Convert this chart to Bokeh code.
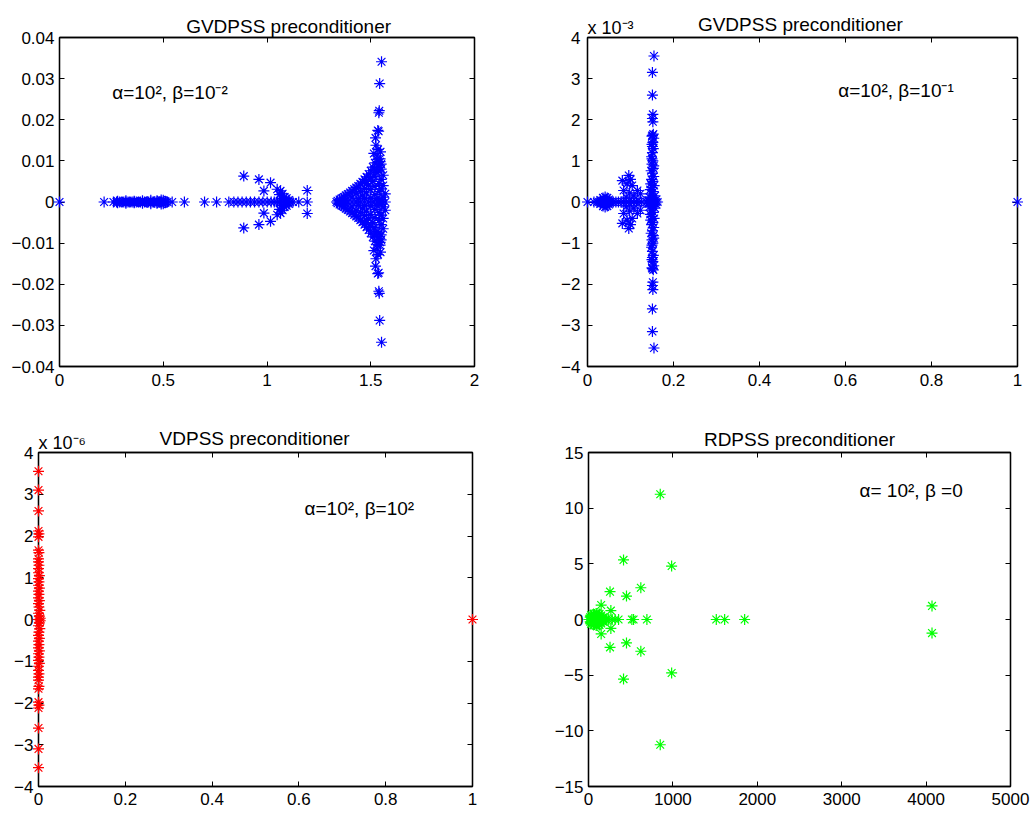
from bokeh.plotting import figure
from bokeh.models import (Range1d, FixedTicker, LinearAxis, Label,
                          CustomJSTickFormatter, ColumnDataSource)
from bokeh.core.properties import value
from bokeh.layouts import column, row
from bokeh.embed import file_html
from bokeh.resources import INLINE

FONT = "Liberation Sans"

# ------------------------------------------------------------------ data
# Panel 1: GVDPSS, alpha=1e2, beta=1e-2  (real eigenvalues, and complex pairs re +/- i*im)
gv1_real = [0.0, 0.215, 0.26, 0.275, 0.29, 0.30, 0.31, 0.32, 0.33, 0.34, 0.35, 0.36,
            0.37, 0.38, 0.39, 0.40, 0.41, 0.42, 0.43, 0.44, 0.45, 0.46, 0.47, 0.48,
            0.49, 0.50, 0.51, 0.52, 0.543, 0.602, 0.699, 0.757, 0.816, 0.840, 0.860,
            0.880, 0.900, 0.920, 0.940, 0.961, 0.980, 1.001, 1.020, 1.035, 1.050,
            1.065, 1.080, 1.095, 1.110, 1.125, 1.153, 1.194,
            1.335, 1.35, 1.37, 1.39, 1.41, 1.43, 1.45, 1.47, 1.49, 1.51, 1.53, 1.55, 1.57]
gv1_pair_re = [0.28, 0.32, 0.36, 0.40, 0.44, 0.47, 0.49, 0.50, 0.51,
               0.888, 0.961, 1.017, 0.985, 1.049, 1.065, 1.060, 1.075, 1.085, 1.095,
               1.070, 1.105, 1.194,
               1.34, 1.35, 1.36, 1.37, 1.38, 1.39, 1.40, 1.41, 1.42, 1.43, 1.44, 1.45,
               1.46, 1.47, 1.48, 1.49, 1.50, 1.51, 1.52, 1.53,
               1.38, 1.41, 1.43, 1.45, 1.47, 1.49, 1.51, 1.52, 1.53, 1.54, 1.55,
               1.46, 1.48, 1.50, 1.52, 1.54, 1.55, 1.56,
               1.50, 1.52, 1.54, 1.55, 1.56, 1.57, 1.56, 1.53, 1.55, 1.44, 1.47,
               1.54, 1.55, 1.545, 1.535, 1.52, 1.50, 1.48,
               1.515, 1.547, 1.525, 1.523, 1.534, 1.538, 1.539, 1.541, 1.543, 1.552,
               1.535, 1.53, 1.545]
gv1_pair_im = [0.0002, 0.0003, 0.0002, 0.0003, 0.0004, 0.0003, 0.0005, 0.0004, 0.0002,
               0.0063, 0.0055, 0.0047, 0.0027, 0.0031, 0.0027, 0.0018, 0.0020, 0.0012, 0.0009,
               0.0008, 0.0005, 0.0028,
               0.0003, 0.0006, 0.0009, 0.0012, 0.0016, 0.0019, 0.0023, 0.0027, 0.0031, 0.0035,
               0.0039, 0.0044, 0.0049, 0.0055, 0.0061, 0.0068, 0.0076, 0.0085, 0.0095, 0.0104,
               0.0005, 0.0012, 0.0020, 0.0026, 0.0033, 0.0041, 0.0050, 0.0062, 0.0072, 0.0085,
               0.0092,
               0.0015, 0.0022, 0.0030, 0.0038, 0.0045, 0.0055, 0.0065,
               0.0010, 0.0018, 0.0025, 0.0032, 0.0040, 0.0020, 0.0012, 0.0008, 0.0006, 0.0008,
               0.0009,
               0.0075, 0.0080, 0.0098, 0.0090, 0.0078, 0.0060, 0.0045,
               0.0118, 0.0122, 0.0138, 0.0156, 0.0174, 0.0172, 0.0217, 0.0222, 0.0288, 0.0341,
               0.0128, 0.0112, 0.0105]

# Panel 2: GVDPSS, alpha=1e2, beta=1e-1
gv2_real = [0.0, 0.015, 0.022, 0.027, 0.031, 0.035, 0.039, 0.043, 0.047, 0.051, 0.055,
            0.060, 0.066, 0.072, 0.078, 0.084, 0.090, 0.096, 0.102, 0.108, 0.114, 0.120,
            0.126, 0.138, 0.143, 0.147, 0.151, 0.155, 0.159, 0.163, 1.0]
gv2_pair_re = [0.030, 0.036, 0.041, 0.046, 0.050, 0.044,
               0.081, 0.096, 0.092, 0.104, 0.116, 0.084, 0.123, 0.098, 0.108, 0.090, 0.100,
               0.1546, 0.151, 0.151, 0.152, 0.151, 0.152, 0.153, 0.150, 0.152, 0.150, 0.153,
               0.151, 0.149, 0.152, 0.150, 0.153, 0.148, 0.151, 0.154, 0.149, 0.152, 0.147,
               0.155, 0.150, 0.146, 0.153, 0.148, 0.157, 0.144, 0.151, 0.159, 0.142, 0.154,
               0.151, 0.150, 0.154, 0.151]
gv2_pair_im = [0.05e-3, 0.10e-3, 0.12e-3, 0.10e-3, 0.06e-3, 0.04e-3,
               0.52e-3, 0.645e-3, 0.44e-3, 0.40e-3, 0.28e-3, 0.28e-3, 0.20e-3, 0.22e-3,
               0.15e-3, 0.12e-3, 0.55e-3,
               3.55e-3, 3.15e-3, 2.60e-3, 2.13e-3, 2.03e-3, 1.95e-3, 1.65e-3, 1.60e-3,
               1.45e-3, 1.40e-3, 1.30e-3, 1.20e-3, 1.10e-3, 1.00e-3, 0.92e-3, 0.82e-3,
               0.76e-3, 0.70e-3, 0.62e-3, 0.55e-3, 0.50e-3, 0.44e-3, 0.40e-3, 0.35e-3,
               0.30e-3, 0.25e-3, 0.20e-3, 0.15e-3, 0.12e-3, 0.09e-3, 0.05e-3, 0.04e-3,
               1.55e-3, 1.35e-3, 1.05e-3, 0.88e-3, 1.62e-3]

# Panel 3: VDPSS, alpha=1e2, beta=1e2
vd_real = [0.0, 0.0, 0.001, 1.0]
vd_pair_re = [0.0, 0.0, 0.0, 0.0, 0.001, 0.0, 0.0, 0.001, 0.0, 0.0, 0.001, 0.0, 0.0,
              0.002, 0.0, 0.001, 0.0, 0.002, 0.0, 0.001, 0.0, 0.002, 0.0, 0.001, 0.003,
              0.0, 0.002, 0.004]
vd_pair_im = [3.55e-6, 3.1e-6, 2.6e-6, 2.12e-6, 2.05e-6, 1.98e-6, 1.66e-6, 1.6e-6,
              1.45e-6, 1.38e-6, 1.3e-6, 1.22e-6, 1.12e-6, 1.05e-6, 0.98e-6, 0.9e-6,
              0.82e-6, 0.75e-6, 0.68e-6, 0.6e-6, 0.52e-6, 0.45e-6, 0.38e-6, 0.3e-6,
              0.22e-6, 0.15e-6, 0.08e-6, 0.03e-6]

# Panel 4: RDPSS, alpha=1e2, beta=0
rd_real = [5, 15, 25, 35, 45, 55, 65, 75, 85, 95, 105, 120, 135, 150, 165, 180, 200,
           215, 240, 280, 316, 356, 514, 534, 692, 1514, 1613, 1850]
rd_pair_re = [850, 415, 985, 255, 450, 620, 150, 265, 4070,
              20, 40, 50, 70, 80, 100, 110, 120, 140, 150, 60, 90, 130, 30, 170, 100]
rd_pair_im = [11.25, 5.35, 4.8, 2.5, 2.1, 2.85, 1.3, 0.8, 1.22,
              0.2, 0.35, 0.15, 0.45, 0.3, 0.55, 0.2, 0.4, 0.15, 0.35, 0.5, 0.55, 0.5,
              0.4, 0.2, 0.1]

# axis ticks
p1_xticks = [0, 0.5, 1, 1.5, 2]
p1_yticks = [-0.04, -0.03, -0.02, -0.01, 0, 0.01, 0.02, 0.03, 0.04]
p2_xticks = [0, 0.2, 0.4, 0.6, 0.8, 1]
p2_yticks = [-4e-3, -3e-3, -2e-3, -1e-3, 0, 1e-3, 2e-3, 3e-3, 4e-3]
p3_xticks = [0, 0.2, 0.4, 0.6, 0.8, 1]
p3_yticks = [-4e-6, -3e-6, -2e-6, -1e-6, 0, 1e-6, 2e-6, 3e-6, 4e-6]
p4_xticks = [0, 1000, 2000, 3000, 4000, 5000]
p4_yticks = [-15, -10, -5, 0, 5, 10, 15]

titles = ["GVDPSS preconditioner", "GVDPSS preconditioner",
          "VDPSS preconditioner", "RDPSS preconditioner"]
notes = ["\u03b1=10\u00b2, \u03b2=10\u207b\u00b2", "\u03b1=10\u00b2, \u03b2=10\u207b\u00b9",
         "\u03b1=10\u00b2, \u03b2=10\u00b2", "\u03b1= 10\u00b2,  \u03b2 =0"]
multipliers = [None, "x 10\u207b\u00b3", "x 10\u207b\u2076", None]
scales = [1, 1e3, 1e6, 1]


def eig_source(real_vals, pair_re, pair_im):
    xs = list(real_vals) + list(pair_re) + list(pair_re)
    ys = [0.0] * len(real_vals) + list(pair_im) + [-v for v in pair_im]
    return ColumnDataSource(dict(x=xs, y=ys))


def fmt(scale):
    return CustomJSTickFormatter(code="""
        const v = tick * %r;
        if (Math.abs(v) < 1e-9) { return "0"; }
        const s = String(parseFloat(v.toFixed(6)));
        return s.replace("-", "\u2212");
    """ % scale)


def panel(w, h, borders, xr, yr, xticks, yticks, yscale, src, color,
          title, title_x, title_px, note, note_pos, mult, mult_px, ystandoff, xstandoff):
    left, right, top, bottom = borders
    frame_h = h - top - bottom
    yspan = yr[1] - yr[0]

    def above(px):  # data y that lies px pixels above the top of the frame
        return yr[1] + px * yspan / frame_h

    p = figure(width=w, height=h, x_range=Range1d(*xr), y_range=Range1d(*yr),
               output_backend="svg", toolbar_location=None,
               min_border_left=left, min_border_right=right,
               min_border_top=top, min_border_bottom=bottom)
    p.xgrid.visible = False
    p.ygrid.visible = False
    p.outline_line_color = "black"
    p.outline_line_width = 1.3
    p.background_fill_color = "white"
    p.border_fill_color = "white"

    p.xaxis.ticker = FixedTicker(ticks=xticks)
    p.yaxis.ticker = FixedTicker(ticks=yticks)
    p.xaxis.formatter = fmt(1)
    p.yaxis.formatter = fmt(yscale)
    p.xaxis.major_label_standoff = xstandoff
    p.yaxis.major_label_standoff = ystandoff
    for ax in (p.xaxis[0], p.yaxis[0]):
        ax.major_tick_in = 5
        ax.major_tick_out = 0
        ax.minor_tick_line_color = None
        ax.axis_line_color = "black"
        ax.axis_line_width = 1.3
        ax.major_tick_line_color = "black"
        ax.major_label_text_font = FONT
        ax.major_label_text_font_size = "17px"
        ax.major_label_text_color = "black"

    for side, ticks in (("right", yticks), ("above", xticks)):
        ax = LinearAxis(ticker=FixedTicker(ticks=ticks), major_label_text_font_size="0px",
                        major_label_text_color=None, major_label_standoff=0,
                        major_tick_in=5, major_tick_out=0,
                        minor_tick_line_color=None, axis_line_color="black",
                        axis_line_width=1.3, major_tick_line_color="black")
        p.add_layout(ax, side)

    p.scatter("x", "y", source=src, marker="asterisk", size=11, line_color=color,
              line_width=1.2, level="overlay")

    # title (drawn above the frame)
    p.text(x=[title_x], y=[above(title_px)], text=[title], text_align="center",
           text_baseline="alphabetic", text_font=value(FONT),
           text_font_size=value("19px"), text_color="black", level="overlay")
    # parameter annotation inside the frame
    p.add_layout(Label(x=note_pos[0], y=note_pos[1], text=note, text_align="left",
                       text_baseline="alphabetic", text_font=FONT,
                       text_font_size="19px", text_color="black"))
    # exponent multiplier of the y axis
    if mult:
        p.text(x=[xr[0]], y=[above(mult_px)], text=[mult], text_align="left",
               text_baseline="alphabetic", text_font=value(FONT),
               text_font_size=value("18px"), text_color="black", level="overlay")
    return p


f1 = panel(518, 405, (59, 44, 37, 33), (0, 2), (-0.04, 0.04), p1_xticks, p1_yticks,
           scales[0], eig_source(gv1_real, gv1_pair_re, gv1_pair_im), "#0000ff",
           titles[0], 1.104, 11.4, notes[0], (0.254, 0.0266), multipliers[0], None, 5, 7)
f2 = panel(517, 405, (69, 18, 37, 39), (0, 1), (-4e-3, 4e-3), p2_xticks, p2_yticks,
           scales[1], eig_source(gv2_real, gv2_pair_re, gv2_pair_im), "#0000ff",
           titles[1], 0.495, 13, notes[1], (0.583, 0.00271), multipliers[1], 9.7, 7, 7)
f3 = panel(518, 409, (38, 46, 47, 28), (0, 1), (-4e-6, 4e-6), p3_xticks, p3_yticks,
           scales[2], eig_source(vd_real, vd_pair_re, vd_pair_im), "#ff0000",
           titles[2], 0.498, 13.7, notes[2], (0.613, 2.65e-6), multipliers[2], 9.3, 5, 6)
f4 = panel(517, 409, (70, 25, 42, 27), (0, 5000), (-15, 15), p4_xticks, p4_yticks,
           scales[3], eig_source(rd_real, rd_pair_re, rd_pair_im), "#00ff00",
           titles[3], 2500, 13.7, notes[3], (3211, 11.6), multipliers[3], None, 5, 6)

layout = column(row(f1, f2), row(f3, f4))
open("out.html", "w").write(file_html(layout, INLINE))
